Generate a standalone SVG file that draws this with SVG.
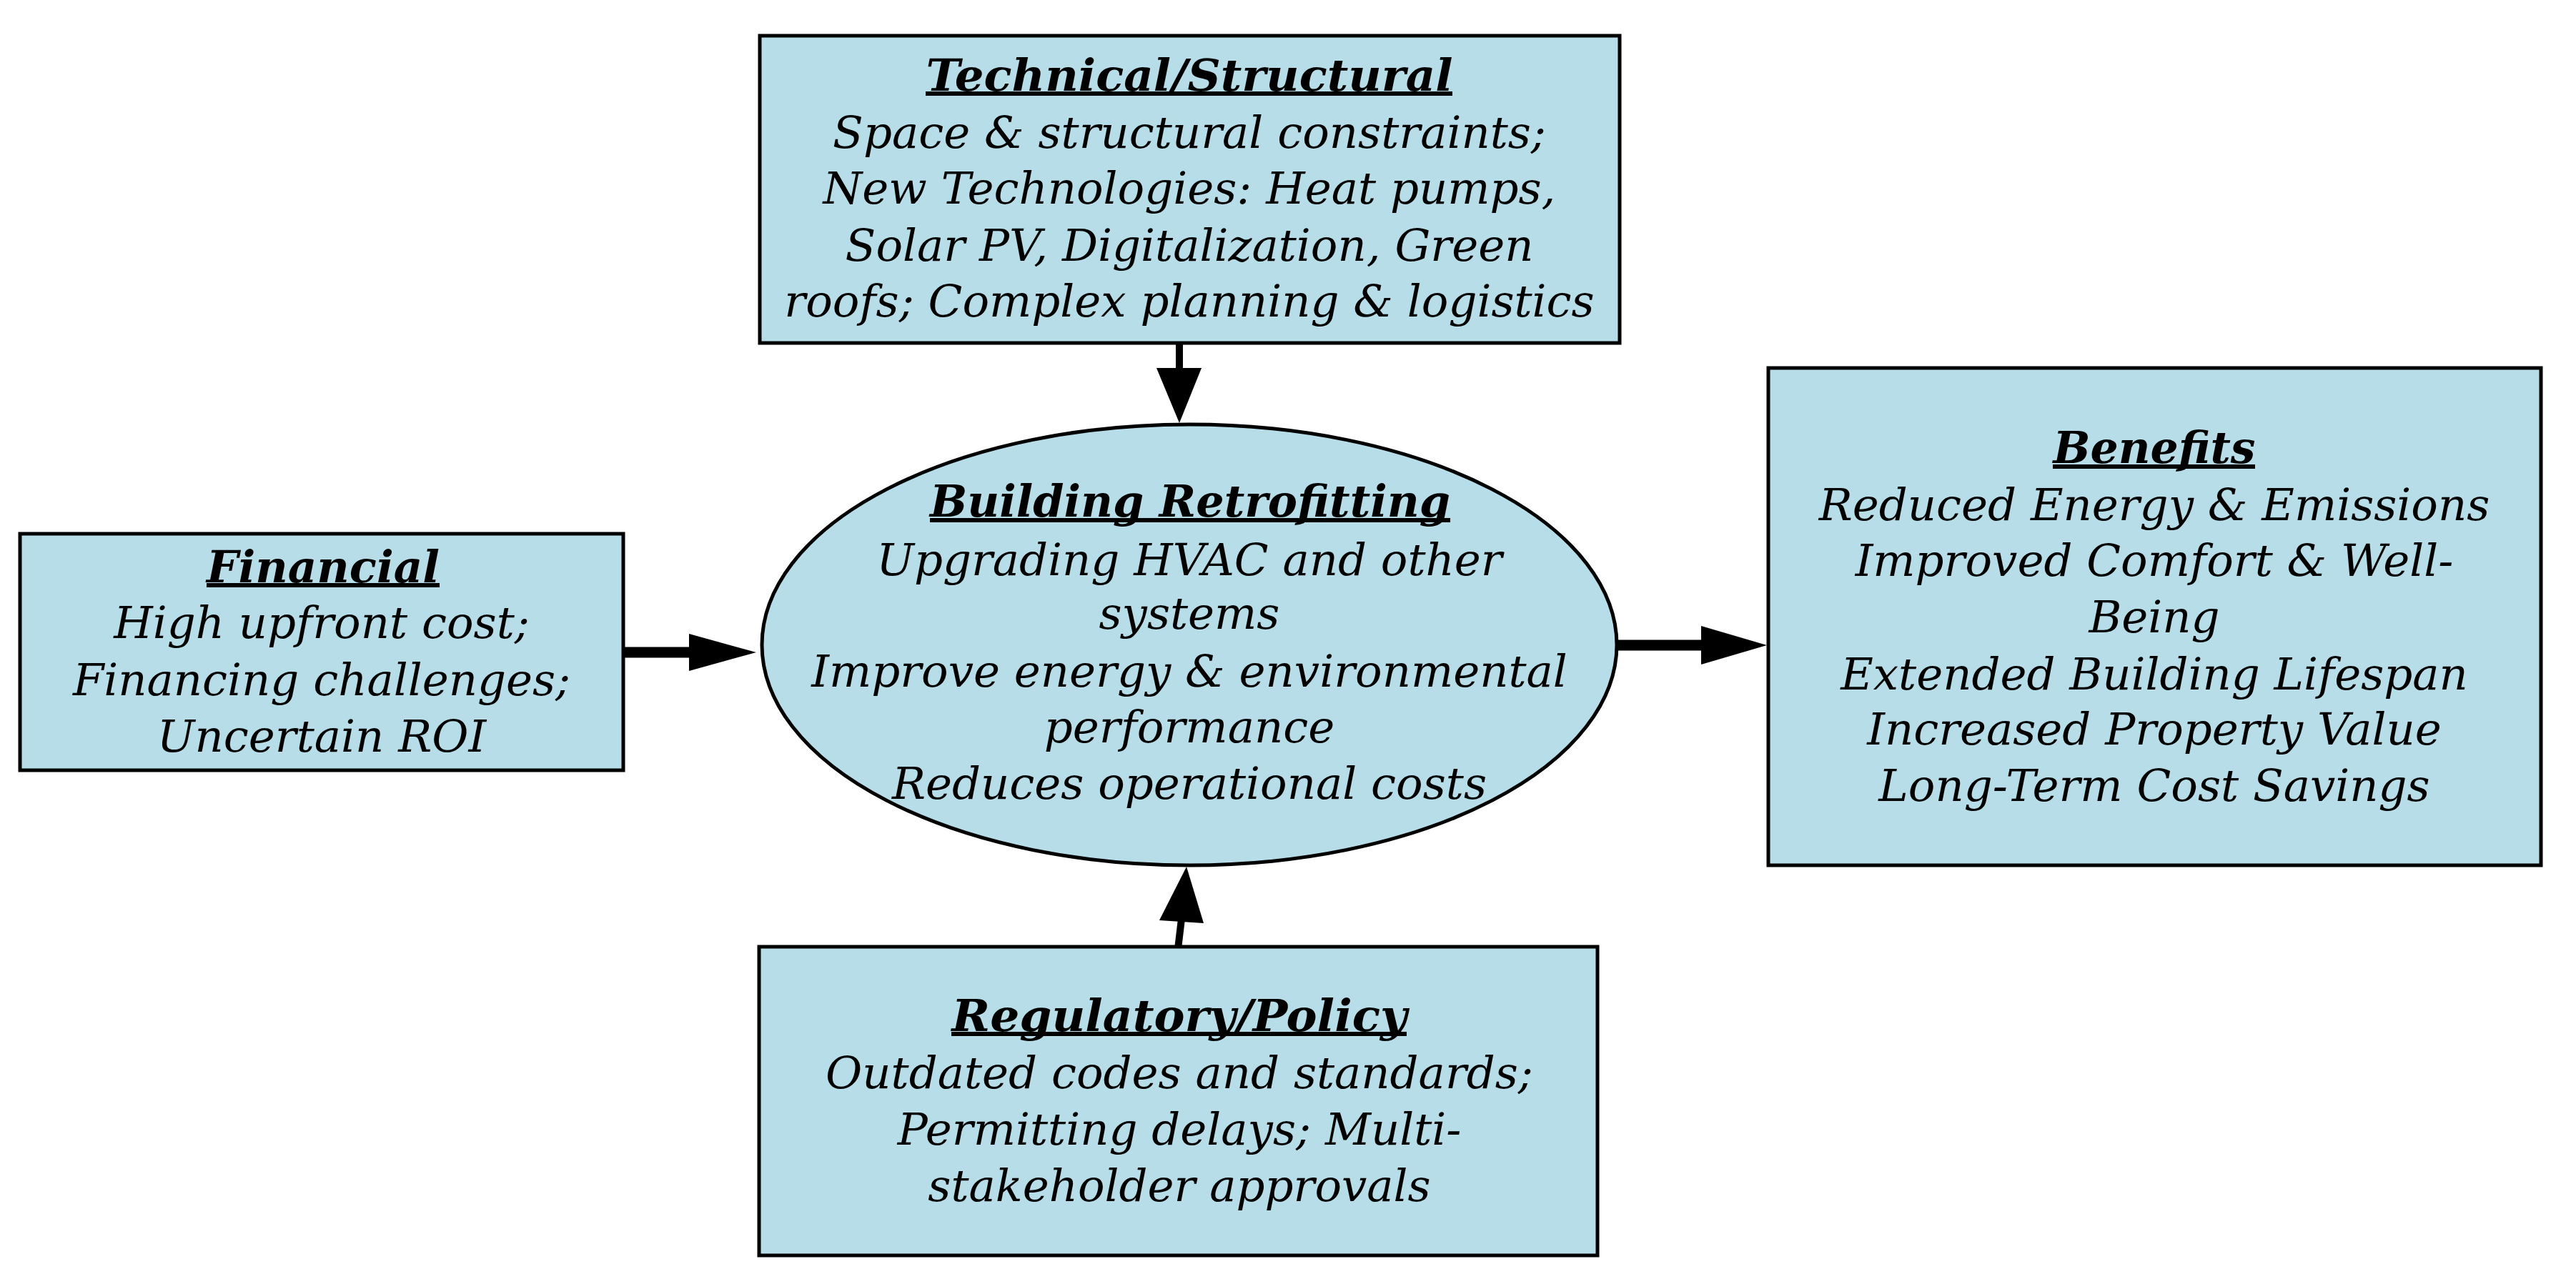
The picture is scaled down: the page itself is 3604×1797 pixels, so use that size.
<svg xmlns="http://www.w3.org/2000/svg" width="3604" height="1797" viewBox="0 0 3604 1797">
<style>
.box{fill:#B7DDE8;stroke:#000;stroke-width:5;stroke-linejoin:miter}
.t{font-family:"DejaVu Serif","Liberation Serif",serif;font-style:italic;font-size:62.5px;fill:#000;text-anchor:middle}
.h{font-family:"DejaVu Serif","Liberation Serif",serif;font-style:italic;font-weight:bold;font-size:61px;fill:#000;text-anchor:middle}
.u{stroke:#000;stroke-width:6}
.c{stroke:#000;fill:none;stroke-linecap:round}
.ah{fill:#000;stroke:none}
</style>
<rect width="3604" height="1797" fill="#fff"/>
<g id="connectors">
<line class="c" x1="1650" y1="482" x2="1650" y2="518" stroke-width="10"/>
<polygon class="ah" points="1618,515 1681,515 1650,592"/>
<line class="c" x1="1648" y1="1328" x2="1653" y2="1286" stroke-width="10"/>
<polygon class="ah" points="1622,1288 1684,1292 1660,1213"/>
<line class="c" x1="872" y1="913" x2="968" y2="913" stroke-width="15"/>
<polygon class="ah" points="964,887 964,939 1058,913"/>
<line class="c" x1="2262" y1="903" x2="2384" y2="903" stroke-width="15"/>
<polygon class="ah" points="2380,876 2380,930 2472,903"/>
</g>
<g id="technical">
<rect class="box" x="1063" y="50" width="1203" height="430"/>
<text class="h" x="1664" y="127" textLength="737" lengthAdjust="spacingAndGlyphs">Technical/Structural</text>
<line class="u" x1="1295" y1="131" x2="2032" y2="131"/>
<text class="t" x="1664" y="207">Space &amp; structural constraints;</text>
<text class="t" x="1664" y="285">New Technologies: Heat pumps,</text>
<text class="t" x="1664" y="365">Solar PV, Digitalization, Green</text>
<text class="t" x="1664" y="443">roofs; Complex planning &amp; logistics</text>
</g>
<g id="financial">
<rect class="box" x="28" y="747" width="844" height="331"/>
<text class="h" x="452" y="815" textLength="326" lengthAdjust="spacingAndGlyphs">Financial</text>
<line class="u" x1="289" y1="819" x2="615" y2="819"/>
<text class="t" x="450" y="893">High upfront cost;</text>
<text class="t" x="450" y="973">Financing challenges;</text>
<text class="t" x="450" y="1052">Uncertain ROI</text>
</g>
<g id="retrofitting">
<ellipse class="box" cx="1664" cy="902.5" rx="598" ry="308.5"/>
<text class="h" x="1665" y="723" textLength="728" lengthAdjust="spacingAndGlyphs">Building Retrofitting</text>
<line class="u" x1="1301" y1="728" x2="2029" y2="728"/>
<text class="t" x="1664" y="805">Upgrading HVAC and other</text>
<text class="t" x="1664" y="880">systems</text>
<text class="t" x="1664" y="961">Improve energy &amp; environmental</text>
<text class="t" x="1664" y="1039">performance</text>
<text class="t" x="1664" y="1118">Reduces operational costs</text>
</g>
<g id="benefits">
<rect class="box" x="2474" y="515" width="1081" height="696"/>
<text class="h" x="3014" y="648" textLength="283" lengthAdjust="spacingAndGlyphs">Benefits</text>
<line class="u" x1="2872" y1="653" x2="3155" y2="653"/>
<text class="t" x="3014" y="728">Reduced Energy &amp; Emissions</text>
<text class="t" x="3014" y="806">Improved Comfort &amp; Well-</text>
<text class="t" x="3014" y="885">Being</text>
<text class="t" x="3014" y="965">Extended Building Lifespan</text>
<text class="t" x="3014" y="1042">Increased Property Value</text>
<text class="t" x="3014" y="1121">Long-Term Cost Savings</text>
</g>
<g id="regulatory">
<rect class="box" x="1062" y="1325" width="1173" height="432"/>
<text class="h" x="1650" y="1443" textLength="637" lengthAdjust="spacingAndGlyphs">Regulatory/Policy</text>
<line class="u" x1="1331" y1="1447" x2="1968" y2="1447"/>
<text class="t" x="1650" y="1523">Outdated codes and standards;</text>
<text class="t" x="1650" y="1602">Permitting delays; Multi-</text>
<text class="t" x="1650" y="1681">stakeholder approvals</text>
</g>
</svg>
